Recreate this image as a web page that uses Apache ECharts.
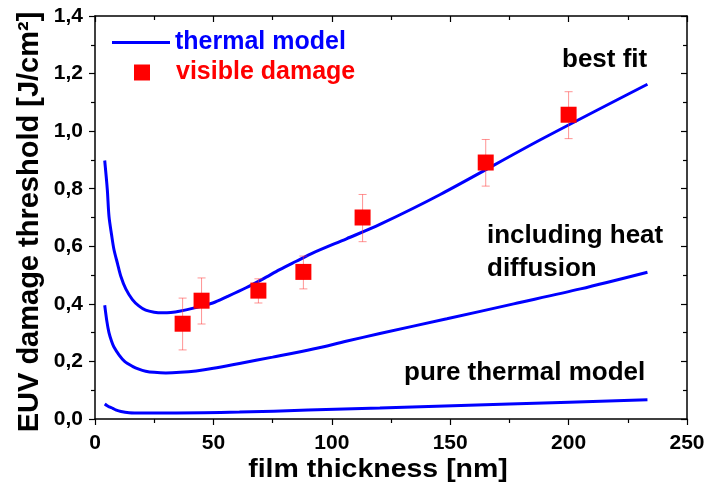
<!DOCTYPE html>
<html>
<head>
<meta charset="utf-8">
<script src="https://cdn.jsdelivr.net/npm/echarts@6/dist/echarts.min.js"></script>
<style>
  html, body { margin: 0; padding: 0; background: #fff; }
  #chart { width: 706px; height: 484px; }
</style>
</head>
<body>
<div id="chart"></div>
<script>
// model curves: [film thickness nm, threshold J/cm2]
var bestFit = [
    [4.1, 0.898], [5.2, 0.797], [5.9, 0.705], [7.0, 0.640], [8.0, 0.589],
    [9.5, 0.540], [10.9, 0.496], [13.0, 0.452], [15.8, 0.415], [18.5, 0.393],
    [21.4, 0.378], [25.0, 0.371], [28.5, 0.369], [32.0, 0.370], [35.6, 0.374],
    [42.0, 0.386], [49.7, 0.403], [56.0, 0.426], [63.8, 0.456], [71.0, 0.487],
    [78.0, 0.519], [85.0, 0.548], [92.1, 0.577], [106.2, 0.626], [120.3, 0.676],
    [145.8, 0.780], [188.1, 0.970], [233.3, 1.163]
];
var withDiffusion = [
    [4.1, 0.395], [5.0, 0.340], [5.9, 0.300], [7.0, 0.270], [8.0, 0.250],
    [10.2, 0.222], [12.5, 0.200], [15.8, 0.183], [18.5, 0.173], [21.4, 0.166],
    [25.0, 0.162], [29.9, 0.160], [36.0, 0.162], [42.7, 0.167], [50.0, 0.176],
    [61.0, 0.193], [75.0, 0.215], [92.1, 0.243], [106.0, 0.270], [120.3, 0.297],
    [148.6, 0.348], [176.8, 0.400], [205.0, 0.452], [233.3, 0.510]
];
var pureThermal = [
    [4.1, 0.052], [5.0, 0.047], [6.0, 0.042], [7.5, 0.037], [8.7, 0.032],
    [11.0, 0.026], [14.4, 0.022], [20.0, 0.021], [34.2, 0.021], [61.0, 0.024],
    [90.0, 0.031], [120.3, 0.038], [175.0, 0.052], [233.3, 0.067]
];

// measured points with error bars
var damageX = [37, 45, 69, 88, 113, 165, 200];
var damageY = [0.331, 0.411, 0.446, 0.511, 0.700, 0.891, 1.057];
var damageLow = [0.24, 0.33, 0.403, 0.452, 0.616, 0.809, 0.974];
var damageHigh = [0.42, 0.49, 0.487, 0.566, 0.78, 0.971, 1.137];

var xTicks = [0, 50, 100, 150, 200, 250];
var yTicks = [0, 0.2, 0.4, 0.6, 0.8, 1.0, 1.2, 1.4];

var FONT = '"Liberation Sans", Arial, sans-serif';

var points = damageX.map(function (x, i) { return [x, damageY[i]]; });
var bars = damageX.map(function (x, i) { return [x, damageLow[i], damageHigh[i]]; });

var chart = echarts.init(document.getElementById('chart'));

function commaLabel(v) {
    return v.toFixed(1).replace('.', ',');
}

var baseX = {
    type: 'value',
    min: xTicks[0],
    max: xTicks[xTicks.length - 1],
    interval: 50,
    splitLine: { show: false },
    axisLine: { onZero: false, lineStyle: { color: '#000', width: 1.5 } },
    minorTick: { show: true, splitNumber: 2, length: 4, lineStyle: { color: '#000', width: 1.2 } }
};
var baseY = {
    type: 'value',
    min: yTicks[0],
    max: yTicks[yTicks.length - 1],
    interval: 0.2,
    splitLine: { show: false },
    axisLine: { onZero: false, lineStyle: { color: '#000', width: 1.5 } },
    minorTick: { show: true, splitNumber: 2, length: 4, lineStyle: { color: '#000', width: 1.2 } }
};

function curve(data) {
    return {
        name: 'thermal model',
        type: 'line',
        data: data,
        smooth: 0.3,
        symbol: 'none',
        lineStyle: { color: '#0000ff', width: 3 },
        itemStyle: { color: '#0000ff' },
        z: 3
    };
}

chart.setOption({
    animation: false,
    grid: { left: 95, right: 19, top: 16, bottom: 65, containLabel: false, outerBoundsMode: 'none' },
    legend: [{
        data: ['thermal model'],
        left: 107, top: 25,
        icon: 'rect', itemWidth: 58, itemHeight: 3,
        textStyle: { color: '#0000ff', fontFamily: FONT, fontWeight: 'bold', fontSize: 25 }
    }, {
        data: ['visible damage'],
        left: 129, top: 55,
        icon: 'rect', itemWidth: 16, itemHeight: 16,
        textStyle: { color: '#ff0000', fontFamily: FONT, fontWeight: 'bold', fontSize: 25, padding: [0, 0, 0, 21] }
    }],
    xAxis: [Object.assign({}, baseX, {
        position: 'bottom',
        axisTick: { inside: false, length: 6, lineStyle: { color: '#000', width: 1.2 } },
        axisLabel: { color: '#000', fontFamily: FONT, fontWeight: 'bold', fontSize: 21, margin: 14 }
    }), Object.assign({}, baseX, {
        position: 'top',
        axisTick: { inside: true, length: 6, lineStyle: { color: '#000', width: 1.2 } },
        axisLabel: { show: false }
    })],
    yAxis: [Object.assign({}, baseY, {
        position: 'left',
        axisTick: { inside: false, length: 6, lineStyle: { color: '#000', width: 1.2 } },
        axisLabel: { color: '#000', fontFamily: FONT, fontWeight: 'bold', fontSize: 21, margin: 12, formatter: commaLabel }
    }), Object.assign({}, baseY, {
        position: 'right',
        axisTick: { inside: true, length: 6, lineStyle: { color: '#000', width: 1.2 } },
        axisLabel: { show: false }
    })],
    graphic: [
        // axis titles (the x title is drawn a little wide, as in the original)
        { type: 'text', x: 378, y: 470, scaleX: 1.14,
          style: { text: 'film thickness [nm]', fill: '#000', font: 'bold 25px ' + FONT, align: 'center', verticalAlign: 'middle' } },
        { type: 'text', x: 30, y: 222, rotation: Math.PI / 2,
          style: { text: 'EUV damage threshold [J/cm\u00b2]', fill: '#000', font: 'bold 29px ' + FONT, align: 'center', verticalAlign: 'middle' } },
        { type: 'text', left: 562, top: 47, style: { text: 'best fit', fill: '#000', font: 'bold 26px ' + FONT } },
        { type: 'text', left: 487, top: 219, style: { text: 'including heat\ndiffusion', fill: '#000', font: 'bold 26px ' + FONT, lineHeight: 33 } },
        { type: 'text', left: 404, top: 360, style: { text: 'pure thermal model', fill: '#000', font: 'bold 26px ' + FONT } }
    ],
    series: [
        curve(bestFit),
        curve(withDiffusion),
        curve(pureThermal),
        {
            name: 'error',
            type: 'custom',
            data: bars,
            encode: { x: 0, y: [1, 2] },
            z: 4,
            renderItem: function (params, api) {
                var lo = api.coord([api.value(0), api.value(1)]);
                var hi = api.coord([api.value(0), api.value(2)]);
                var cap = 4;
                var style = { stroke: 'rgba(255,60,60,0.55)', lineWidth: 1 };
                return {
                    type: 'group',
                    children: [
                        { type: 'line', shape: { x1: lo[0], y1: lo[1], x2: hi[0], y2: hi[1] }, style: style },
                        { type: 'line', shape: { x1: lo[0] - cap, y1: lo[1], x2: lo[0] + cap, y2: lo[1] }, style: style },
                        { type: 'line', shape: { x1: hi[0] - cap, y1: hi[1], x2: hi[0] + cap, y2: hi[1] }, style: style }
                    ]
                };
            }
        },
        {
            name: 'visible damage',
            type: 'scatter',
            data: points,
            symbol: 'rect',
            symbolSize: 16,
            itemStyle: { color: '#ff0000', opacity: 1 },
            z: 5
        }
    ]
});
</script>
</body>
</html>
